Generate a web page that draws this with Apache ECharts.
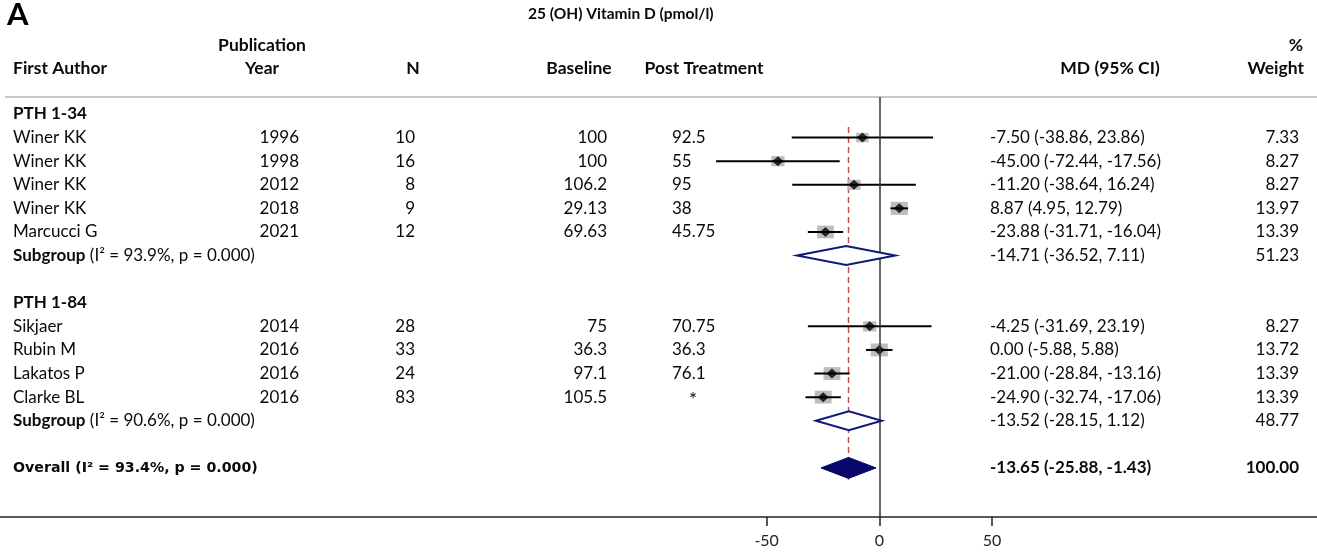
<!DOCTYPE html>
<html>
<head>
<meta charset="utf-8">
<script src="https://cdn.jsdelivr.net/npm/echarts@6/dist/echarts.min.js"></script>
<style>
  html, body { margin: 0; padding: 0; background: #fff; }
  #chart { width: 1317px; height: 552px; }
</style>
</head>
<body>
<div id="chart"></div>
<script>
// study level data
const authors = ['Winer KK', 'Winer KK', 'Winer KK', 'Winer KK', 'Marcucci G', 'Sikjaer', 'Rubin M', 'Lakatos P', 'Clarke BL'];
const years = ['1996', '1998', '2012', '2018', '2021', '2014', '2016', '2016', '2016'];
const sampleN = ['10', '16', '8', '9', '12', '28', '33', '24', '83'];
const baseline = ['100', '100', '106.2', '29.13', '69.63', '75', '36.3', '97.1', '105.5'];
const postTreatment = ['92.5', '55', '95', '38', '45.75', '70.75', '36.3', '76.1', '*'];
const md = [-7.50, -45.00, -11.20, 8.87, -23.88, -4.25, 0.00, -21.00, -24.90];
const ciLow = [-38.86, -72.44, -38.64, 4.95, -31.71, -31.69, -5.88, -28.84, -32.74];
const ciHigh = [23.86, -17.56, 16.24, 12.79, -16.04, 23.19, 5.88, -13.16, -17.06];
const weights = [7.33, 8.27, 8.27, 13.97, 13.39, 8.27, 13.72, 13.39, 13.39];
const studyRows = [1, 2, 3, 4, 5, 9, 10, 11, 12];

// subgroups
const groupNames = ['PTH 1-34', 'PTH 1-84'];
const groupRows = [0, 8];
const subI2 = ['93.9%', '90.6%'];
const subP = ['0.000', '0.000'];
const subMd = [-14.71, -13.52];
const subLow = [-36.52, -28.15];
const subHigh = [7.11, 1.12];
const subWeight = [51.23, 48.77];
const subRows = [6, 13];

// overall
const overallI2 = '93.4%';
const overallP = '0.000';
const overallMd = -13.65;
const overallLow = -25.88;
const overallHigh = -1.43;
const overallWeight = 100;
const overallRow = 15;

const xTicks = [-50, 0, 50];

const FONT = 'Lato, "Open Sans", sans-serif';
const INK = '#0a0a0a';
const fmt = v => v.toFixed(2);
const ciText = (m, l, h) => fmt(m) + ' (' + fmt(l) + ', ' + fmt(h) + ')';

// table text, positioned by row through the y axis
const texts = [];
const col = { author: 13, year: 299, n: 415, base: 607, post: 672, md: 990, weight: 1299 };
function addText(row, x, text, align, extra) {
  texts.push(Object.assign({ row, x, text, align }, extra || {}));
}
groupNames.forEach((g, i) => addText(groupRows[i], col.author, g, 'left', { bold: true }));
authors.forEach((a, i) => {
  const r = studyRows[i];
  addText(r, col.author, a, 'left');
  addText(r, col.year, years[i], 'right');
  addText(r, col.n, sampleN[i], 'right');
  addText(r, col.base, baseline[i], 'right');
  if (postTreatment[i] === '*') addText(r + 0.1, col.post + 17, '*', 'left', { size: 19 });
  else addText(r, col.post, postTreatment[i], 'left');
  addText(r, col.md, ciText(md[i], ciLow[i], ciHigh[i]), 'left');
  addText(r, col.weight, fmt(weights[i]), 'right');
});
subRows.forEach((r, i) => {
  addText(r, col.author, '{b|Subgroup} (I² = ' + subI2[i] + ', p = ' + subP[i] + ')', 'left');
  addText(r, col.md, ciText(subMd[i], subLow[i], subHigh[i]), 'left');
  addText(r, col.weight, fmt(subWeight[i]), 'right');
});
addText(overallRow, col.author, 'Overall (I² = ' + overallI2 + ', p = ' + overallP + ')', 'left',
  { bold: true, family: '"DejaVu Sans", sans-serif', size: 14.2 });
addText(overallRow, col.md, ciText(overallMd, overallLow, overallHigh), 'left', { bold: true });
addText(overallRow, col.weight, fmt(overallWeight), 'right', { bold: true });

const chart = echarts.init(document.getElementById('chart'));

const yMin = -0.72, yMax = 17.08;
const head = (x, y, text, align) => ({
  type: 'text', x, y,
  style: { text, font: 'bold 17.5px ' + FONT, fill: INK, align: align || 'center', verticalAlign: 'middle' }
});

const option = {
  animation: false,
  grid: { left: 0, right: 0, top: 97, bottom: 35 },
  xAxis: {
    type: 'value',
    min: -390.3,
    max: 194.3,
    axisLine: { show: true, onZero: false, lineStyle: { color: '#222', width: 1.5 } },
    axisTick: { show: true, customValues: xTicks, length: 9, lineStyle: { color: '#222', width: 1.5 } },
    axisLabel: { customValues: xTicks, color: '#222', fontSize: 16, fontFamily: FONT, margin: 16 },
    splitLine: { show: false }
  },
  yAxis: {
    type: 'value',
    inverse: true,
    min: yMin,
    max: yMax,
    show: false,
    splitLine: { show: false }
  },
  graphic: [
    { type: 'line', shape: { x1: 5, y1: 97, x2: 1317, y2: 97 }, style: { stroke: '#c8c8c8', lineWidth: 2 } },
    { type: 'text', x: 7, y: 15, style: { text: 'A', font: 'bold 31px ' + FONT, fill: '#000', verticalAlign: 'middle' } },
    { type: 'text', x: 528, y: 14, style: { text: '25 (OH) Vitamin D (pmol/l)', font: 'bold 15.5px ' + FONT, fill: INK, verticalAlign: 'middle' } },
    head(262, 45, 'Publication'),
    head(262, 68, 'Year'),
    head(13, 68, 'First Author', 'left'),
    head(413, 68, 'N'),
    head(579, 68, 'Baseline'),
    head(704, 68, 'Post Treatment'),
    head(1110, 68, 'MD (95% CI)'),
    head(1296, 45, '%'),
    head(1304, 68, 'Weight', 'right')
  ],
  series: [
    {
      // weight boxes
      type: 'custom',
      z: 2,
      data: studyRows.map((r, i) => [md[i], r, weights[i]]),
      encode: { x: 0, y: 1 },
      renderItem: (params, api) => {
        const p = api.coord([api.value(0), api.value(1)]);
        const s = Math.sqrt(api.value(2));
        const w = 4.6 * s, h = 3.5 * s;
        return { type: 'rect', shape: { x: p[0] - w / 2, y: p[1] - h / 2, width: w, height: h }, style: { fill: '#bdbdbd' } };
      }
    },
    {
      // confidence intervals
      type: 'custom',
      z: 3,
      data: studyRows.map((r, i) => [ciLow[i], ciHigh[i], r]),
      encode: { x: [0, 1], y: 2 },
      renderItem: (params, api) => {
        const a = api.coord([api.value(0), api.value(2)]);
        const b = api.coord([api.value(1), api.value(2)]);
        return { type: 'line', shape: { x1: a[0], y1: a[1], x2: b[0], y2: b[1] }, style: { stroke: '#000', lineWidth: 2 } };
      }
    },
    {
      // point estimates
      type: 'scatter',
      z: 4,
      symbol: 'diamond',
      symbolSize: [11, 10],
      itemStyle: { color: '#000' },
      data: studyRows.map((r, i) => [md[i], r]),
      markLine: {
        silent: true,
        symbol: 'none',
        label: { show: false },
        lineStyle: { color: '#333', type: 'solid', width: 1.5 },
        data: [{ xAxis: 0 }]
      }
    },
    {
      // subgroup diamonds
      type: 'custom',
      z: 5,
      data: subRows.map((r, i) => [subLow[i], subMd[i], subHigh[i], r]),
      encode: { x: [0, 1, 2], y: 3 },
      renderItem: (params, api) => {
        const r = api.value(3);
        const l = api.coord([api.value(0), r]);
        const m = api.coord([api.value(1), r]);
        const h = api.coord([api.value(2), r]);
        return {
          type: 'polygon',
          shape: { points: [[l[0], l[1]], [m[0], m[1] - 9.5], [h[0], h[1]], [m[0], m[1] + 9.5]] },
          style: { fill: '#fff', stroke: '#10187a', lineWidth: 2 }
        };
      }
    },
    {
      // overall diamond
      type: 'custom',
      z: 5,
      data: [[overallLow, overallMd, overallHigh, overallRow]],
      encode: { x: [0, 1, 2], y: 3 },
      renderItem: (params, api) => {
        const r = api.value(3);
        const l = api.coord([api.value(0), r]);
        const m = api.coord([api.value(1), r]);
        const h = api.coord([api.value(2), r]);
        return {
          type: 'polygon',
          shape: { points: [[l[0], l[1]], [m[0], m[1] - 10.5], [h[0], h[1]], [m[0], m[1] + 10.5]] },
          style: { fill: '#08086b', stroke: '#08086b', lineWidth: 1 }
        };
      }
    },
    {
      // overall estimate reference line
      type: 'custom',
      z: 1,
      data: [[overallMd, 0.55, overallRow + 0.5]],
      encode: { x: 0, y: [1, 2] },
      renderItem: (params, api) => {
        const a = api.coord([api.value(0), api.value(1)]);
        const b = api.coord([api.value(0), api.value(2)]);
        return { type: 'line', shape: { x1: a[0], y1: a[1], x2: b[0], y2: b[1] }, style: { stroke: '#c0504d', lineWidth: 1.5, lineDash: [6, 4] } };
      }
    },
    {
      // table text
      type: 'custom',
      z: 6,
      silent: true,
      data: texts.map(t => [0, t.row]),
      encode: { x: 0, y: 1 },
      renderItem: (params, api) => {
        const t = texts[params.dataIndex];
        const y = api.coord([0, t.row])[1];
        return {
          type: 'text',
          x: t.x,
          y: y,
          style: {
            text: t.text,
            align: t.align,
            verticalAlign: 'middle',
            fontFamily: t.family || FONT,
            fontSize: t.size || 17,
            fontWeight: t.bold ? 'bold' : 'normal',
            fill: INK,
            rich: { b: { fontFamily: FONT, fontSize: 17, fontWeight: 'bold', fill: INK } }
          }
        };
      }
    }
  ]
};

chart.setOption(option);
</script>
</body>
</html>
